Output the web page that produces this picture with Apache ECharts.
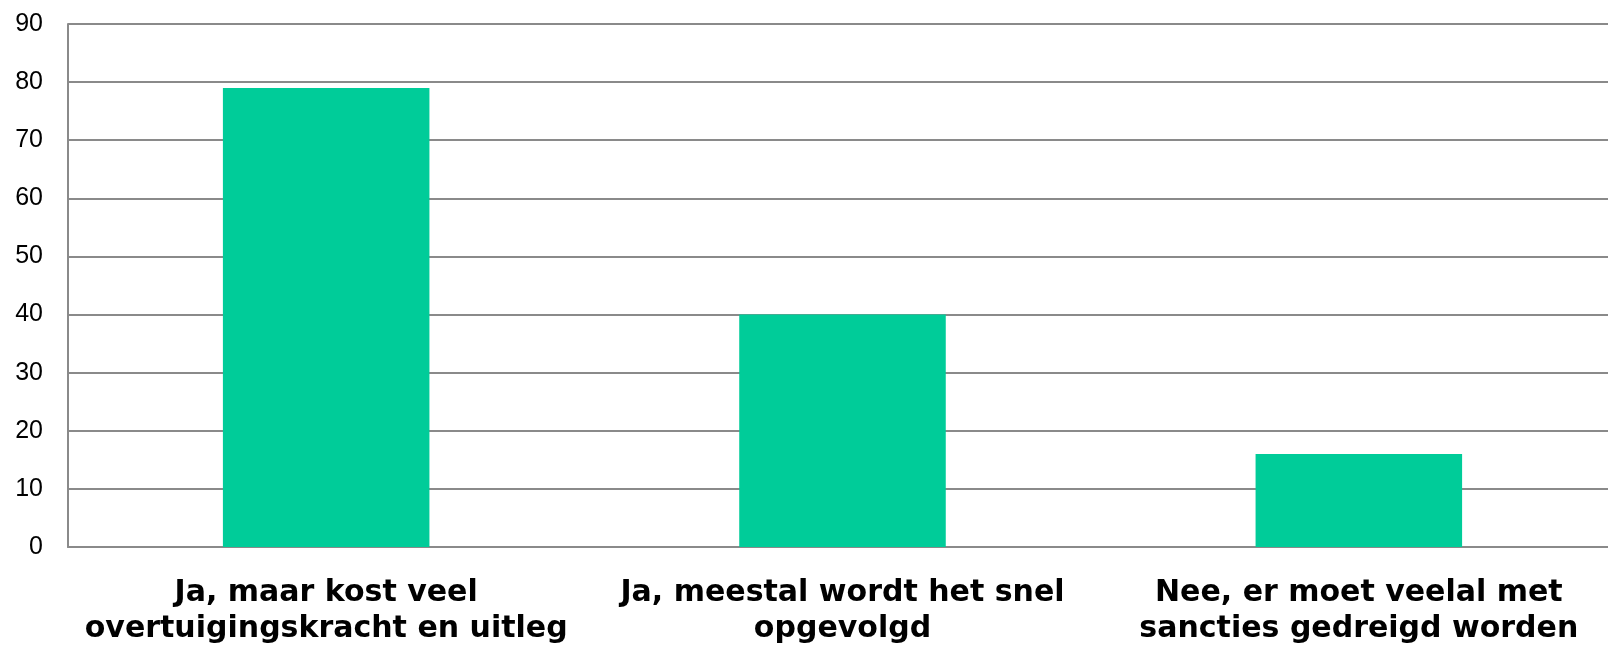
<!DOCTYPE html>
<html>
<head>
<meta charset="utf-8">
<script src="https://cdn.jsdelivr.net/npm/echarts@6/dist/echarts.min.js"></script>
<style>
  html, body { margin: 0; padding: 0; background: #fff; }
  #chart { width: 1608px; height: 654px; }
</style>
</head>
<body>
<div id="chart"></div>
<script>
const categories = [
  'Ja, maar kost veel\novertuigingskracht en uitleg',
  'Ja, meestal wordt het snel\nopgevolgd',
  'Nee, er moet veelal met\nsancties gedreigd worden'
]
const values = [79, 40, 16]
const yMin = 0
const yMax = 90
const yStep = 10

const BAR_COLOR = '#00cc99'
const LINE_COLOR = '#8a8a8a'
const FONT = '"Liberation Sans", Arial, sans-serif'
// the category labels in the picture run wider than Arial, DejaVu matches their extent
const LABEL_FONT = '"DejaVu Sans", sans-serif'

const chart = echarts.init(document.getElementById('chart'))
chart.setOption({
  animation: false,
  backgroundColor: '#fff',
  textStyle: { fontFamily: FONT },
  // plot area runs a little past the right edge of the picture
  grid: {
    left: 68, width: 1549, top: 24, bottom: 107,
    containLabel: false, outerBoundsMode: 'none'
  },
  xAxis: {
    type: 'category',
    data: categories,
    axisLine: { show: true, lineStyle: { color: LINE_COLOR, width: 2 } },
    axisTick: { show: false },
    axisLabel: {
      interval: 0, margin: 28, hideOverlap: false,
      color: '#000', fontSize: 30, fontWeight: 'bold', lineHeight: 36,
      fontFamily: LABEL_FONT
    }
  },
  yAxis: {
    type: 'value',
    min: yMin, max: yMax, interval: yStep,
    axisLine: { show: true, lineStyle: { color: LINE_COLOR, width: 2 } },
    axisTick: { show: false },
    axisLabel: { color: '#000', fontSize: 25, margin: 25, fontFamily: FONT },
    splitLine: { lineStyle: { color: LINE_COLOR, width: 2 } }
  },
  series: [{
    type: 'bar',
    data: values,
    barWidth: '40%',
    itemStyle: { color: BAR_COLOR }
  }]
})
</script>
</body>
</html>
